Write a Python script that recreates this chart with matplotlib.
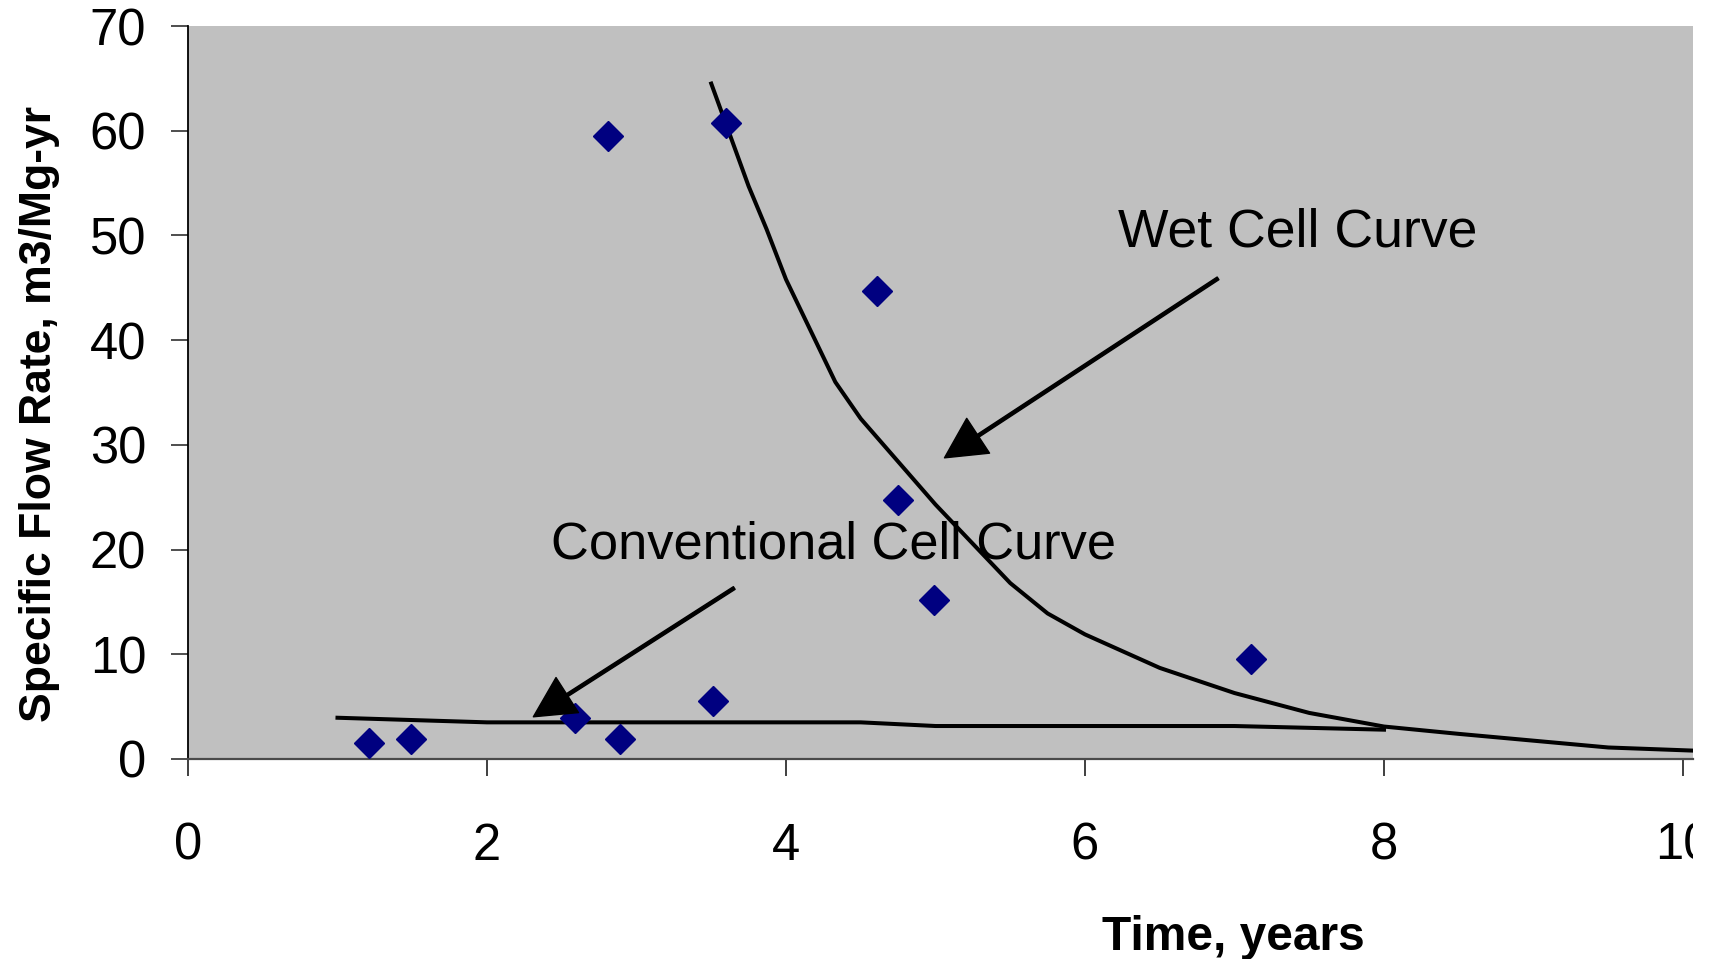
import numpy as np
import matplotlib
matplotlib.use("Agg")
import matplotlib.pyplot as plt
from matplotlib.transforms import Bbox, TransformedBbox

plt.rcParams['font.family'] = ['Liberation Sans', 'DejaVu Sans']

# measured flow rates (diamonds)
time_pts = [1.21, 1.49, 2.59, 2.81, 2.89, 3.51, 3.60, 4.61, 4.75, 4.99, 7.11]
flow_pts = [1.55, 1.94, 3.88, 59.5, 1.94, 5.53, 60.7, 44.7, 24.75, 15.2, 9.53]

# wet cell curve
wet_t = [3.5, 3.75, 3.87, 4.0, 4.33, 4.5, 5.0, 5.5, 5.75, 6.0, 6.5, 7.0, 7.5, 8.0, 8.5, 9.5, 10.07]
wet_q = [64.5, 54.7, 50.6, 45.8, 36.0, 32.5, 24.3, 16.8, 13.9, 11.9, 8.7, 6.3, 4.4, 3.1, 2.4, 1.1, 0.8]

# conventional cell curve
conv_t = [1, 2, 3, 4, 4.5, 5, 6, 7, 8]
conv_q = [3.94, 3.5, 3.5, 3.5, 3.5, 3.15, 3.15, 3.15, 2.8]

x_ticks = [0, 2, 4, 6, 8, 10]
y_ticks = [0, 10, 20, 30, 40, 50, 60, 70]

fig = plt.figure(figsize=(17.1, 9.59), dpi=100)
ax = fig.add_axes([188/1710, 1 - 759/959, 1505/1710, 733/959])
ax.set_facecolor('#c0c0c0')

ax.plot(wet_t, wet_q, color='black', lw=2.9, zorder=2)
ax.plot(conv_t, conv_q, color='black', lw=2.9, zorder=2)
ax.plot(time_pts, flow_pts, linestyle='none', marker='D', markersize=15,
        color='#000080', markeredgecolor='#000080', zorder=3)

# labels + arrows
ax.text(6.22, 48.96, 'Wet Cell Curve', fontsize=38.5, ha='left', va='baseline')
ax.text(2.43, 19.1, 'Conventional Cell Curve', fontsize=37.7, ha='left', va='baseline')
arrow = dict(facecolor='black', edgecolor='black', width=2.3, headwidth=30,
             headlength=29, shrink=0)
ax.annotate('', xy=(5.06, 28.76), xytext=(6.89, 45.9), arrowprops=arrow)
ax.annotate('', xy=(2.31, 4.03), xytext=(3.654, 16.33), arrowprops=arrow)

ax.set_xlim(0, 10.067)
ax.set_ylim(0, 70)
ax.set_xticks(x_ticks)
ax.set_yticks(y_ticks)
ax.tick_params(axis='y', direction='out', length=12, width=1.3, color='#404040',
               labelsize=36.5, pad=18)
ax.tick_params(axis='x', direction='out', length=12, width=1.3, color='#303030',
               labelsize=36.5, pad=33)

for s in ['top', 'right']:
    ax.spines[s].set_visible(False)
ax.spines['left'].set_color('black')
ax.spines['left'].set_linewidth(1.3)
ax.spines['bottom'].set_color('#4a4a4a')
ax.spines['bottom'].set_linewidth(1.6)

# the original picture is cut at the right edge of the plot area
clip = TransformedBbox(Bbox([[0, 0], [1693/1710, 1]]), fig.transFigure)
for tk in ax.xaxis.get_major_ticks():
    tk.label1.set_clip_on(True)
    tk.label1.set_clip_box(clip)

fig.text(40/1710, 1 - 414/959, 'Specific Flow Rate, m3/Mg-yr', rotation=90,
         fontsize=32, fontweight='bold', ha='center', va='center')
fig.text(1233/1710, 1 - 950/959, 'Time, years', fontsize=34.5,
         fontweight='bold', ha='center', va='baseline')

fig.savefig('out.png', dpi=100)
